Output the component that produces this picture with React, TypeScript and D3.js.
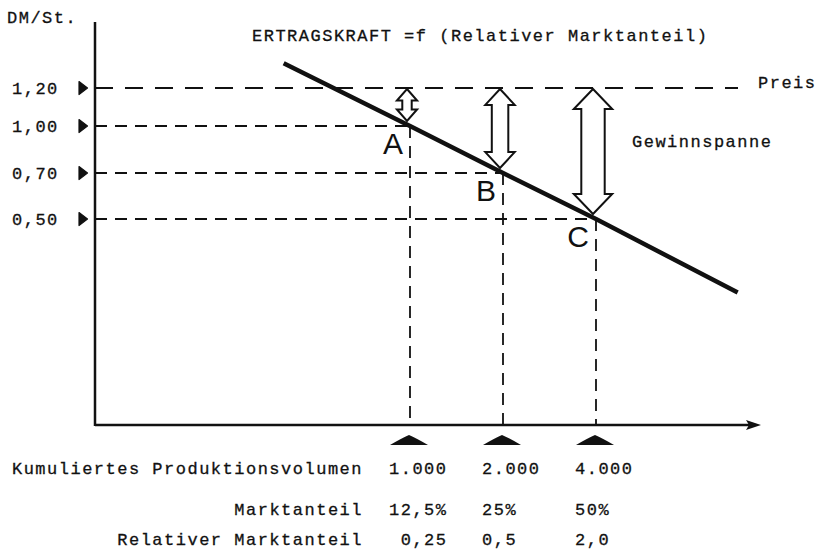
import React from "react";
import * as d3 from "d3";

// ---- data ----
const priceLevels = [1.2, 1.0, 0.7, 0.5];
const priceTickLabels = ["1,20", "1,00", "0,70", "0,50"];
const pricePreis = 1.2;
const pointLabels = ["A", "B", "C"];
const pointVolumes = [1000, 2000, 4000];
const pointPrices = [1.0, 0.7, 0.5];
const volumeLabels = ["1.000", "2.000", "4.000"];
const marketShareLabels = ["12,5%", "25%", "50%"];
const relShareLabels = [" 0,25", "0,5", "2,0"];
const curveVolumes = [390, 1000, 2000, 4000, 11500];
const curvePrices = [1.33, 1.0, 0.7, 0.5, 0.18];
const rowLabels = ["Kumuliertes Produktionsvolumen", "Marktanteil", "Relativer Marktanteil"];
const title = "ERTRAGSKRAFT =f (Relativer Marktanteil)";
const yAxisTitle = "DM/St.";
const preisLabel = "Preis";
const marginLabel = "Gewinnspanne";

const W = 823;
const H = 552;
const axisX = 95;
const axisY = 425;
const axisTop = 22;
const axisRight = 761;

const MONO = "'Liberation Mono', 'DejaVu Sans Mono', monospace";
const SANS = "'Liberation Sans', Arial, sans-serif";
const monoStyle: React.CSSProperties = {
  fontFamily: MONO,
  fontSize: 17,
  letterSpacing: "1.5px",
  whiteSpace: "pre",
};
const INK = "#111";

export default function App() {
  const x = d3.scaleLog().base(2).domain([1000, 4000]).range([410, 596]);
  const y = d3.scaleLinear().domain([0.5, 0.7, 1.0, 1.2]).range([219, 173, 126, 88]);

  const curve = curveVolumes.map((v, i) => [x(v), y(curvePrices[i])] as [number, number]);
  const lineGen = d3.line();

  const shaftScale = d3.scaleLinear().domain([36, 122]).range([10, 23]);

  const doubleArrow = (cx: number, y0: number, y1: number) => {
    const gap = y1 - y0;
    const sw = shaftScale(gap);
    const hw = 1.3 * sw + 8;
    const hh = 0.6 * sw + 6;
    const s = sw / 2;
    const h = hw / 2;
    return [
      [cx, y0],
      [cx + h, y0 + hh],
      [cx + s, y0 + hh],
      [cx + s, y1 - hh],
      [cx + h, y1 - hh],
      [cx, y1],
      [cx - h, y1 - hh],
      [cx - s, y1 - hh],
      [cx - s, y0 + hh],
      [cx - h, y0 + hh],
    ]
      .map((p, i) => (i ? "L" : "M") + p[0].toFixed(1) + "," + p[1].toFixed(1))
      .join("") + "Z";
  };

  const yPreis = y(pricePreis);
  const rowY = [474, 515, 545];
  const rowRight = 363;
  const txt = { style: monoStyle, fill: INK, stroke: INK, strokeWidth: 0.3 };

  return (
    <svg
      width={W}
      height={H}
      viewBox={`0 0 ${W} ${H}`}
      style={{ position: "absolute", left: 0, top: 0, background: "#fff" }}
    >
      <rect width={W} height={H} fill="#fff" />

      {/* Preis dashed line */}
      <line
        x1={axisX}
        x2={738}
        y1={yPreis}
        y2={yPreis}
        stroke={INK}
        strokeWidth={2}
        strokeDasharray="18 12"
      />

      {/* price level guides */}
      {pointVolumes.map((v, i) => (
        <g key={"g" + i}>
          <line
            x1={axisX}
            x2={x(v)}
            y1={y(pointPrices[i])}
            y2={y(pointPrices[i])}
            stroke={INK}
            strokeWidth={1.8}
            strokeDasharray="12 8"
          />
          <line
            x1={x(v)}
            x2={x(v)}
            y1={y(pointPrices[i])}
            y2={axisY}
            stroke={INK}
            strokeWidth={1.8}
            strokeDasharray="12 8"
          />
        </g>
      ))}

      {/* margin arrows */}
      {pointVolumes.map((v, i) => (
        <path
          key={"a" + i}
          d={doubleArrow(x(v) - 3, yPreis + 1, y(pointPrices[i]) - 5)}
          fill="#fff"
          stroke={INK}
          strokeWidth={2}
          strokeLinejoin="miter"
        />
      ))}

      {/* earnings line */}
      <path d={lineGen(curve) || ""} fill="none" stroke={INK} strokeWidth={4.5} />

      {/* axes */}
      <line x1={axisX} x2={axisX} y1={axisTop} y2={axisY + 1} stroke={INK} strokeWidth={2.5} />
      <line x1={axisX} x2={axisRight - 10} y1={axisY} y2={axisY} stroke={INK} strokeWidth={2.5} />
      <path
        d={`M${axisRight},${axisY} L${axisRight - 15},${axisY - 5} L${axisRight - 12},${axisY} L${axisRight - 15},${axisY + 5} Z`}
        fill={INK}
      />

      {/* y ticks */}
      {priceLevels.map((p, i) => (
        <g key={"t" + i}>
          <path
            d={`M79,${y(p) - 6.5} L87.5,${y(p)} L79,${y(p) + 6.5} Z`}
            fill={INK}
            stroke={INK}
            strokeWidth={1.2}
            strokeLinejoin="round"
          />
          <text x={12} y={y(p) + 6} {...txt}>
            {priceTickLabels[i]}
          </text>
        </g>
      ))}

      {/* x markers */}
      {pointVolumes.map((v, i) => (
        <path
          key={"m" + i}
          d={`M${x(v) - 20},445 Q${x(v) - 8},438 ${x(v) - 1},435 Q${x(v) + 6},438 ${x(v) + 18},445 Z`}
          fill={INK}
        />
      ))}

      {/* point labels */}
      {pointVolumes.map((v, i) => (
        <text
          key={"l" + i}
          x={x(v) - 7}
          y={y(pointPrices[i]) + 28}
          textAnchor="end"
          style={{ fontFamily: SANS, fontSize: 30 }}
          fill={INK}
        >
          {pointLabels[i]}
        </text>
      ))}

      {/* texts */}
      <text x={7} y={23} {...txt}>{yAxisTitle}</text>
      <text x={252} y={41} {...txt}>{title}</text>
      <text x={758} y={88} {...txt}>{preisLabel}</text>
      <text x={632} y={147} {...txt}>{marginLabel}</text>

      {rowLabels.map((r, i) => (
        <text key={"r" + i} x={rowRight} y={rowY[i]} textAnchor="end" {...txt}>
          {r}
        </text>
      ))}
      {pointVolumes.map((v, i) => (
        <g key={"b" + i}>
          <text x={x(v) - 21} y={rowY[0]} {...txt}>{volumeLabels[i]}</text>
          <text x={x(v) - 21} y={rowY[1]} {...txt}>{marketShareLabels[i]}</text>
          <text x={x(v) - 21} y={rowY[2]} {...txt}>{relShareLabels[i]}</text>
        </g>
      ))}
    </svg>
  );
}
